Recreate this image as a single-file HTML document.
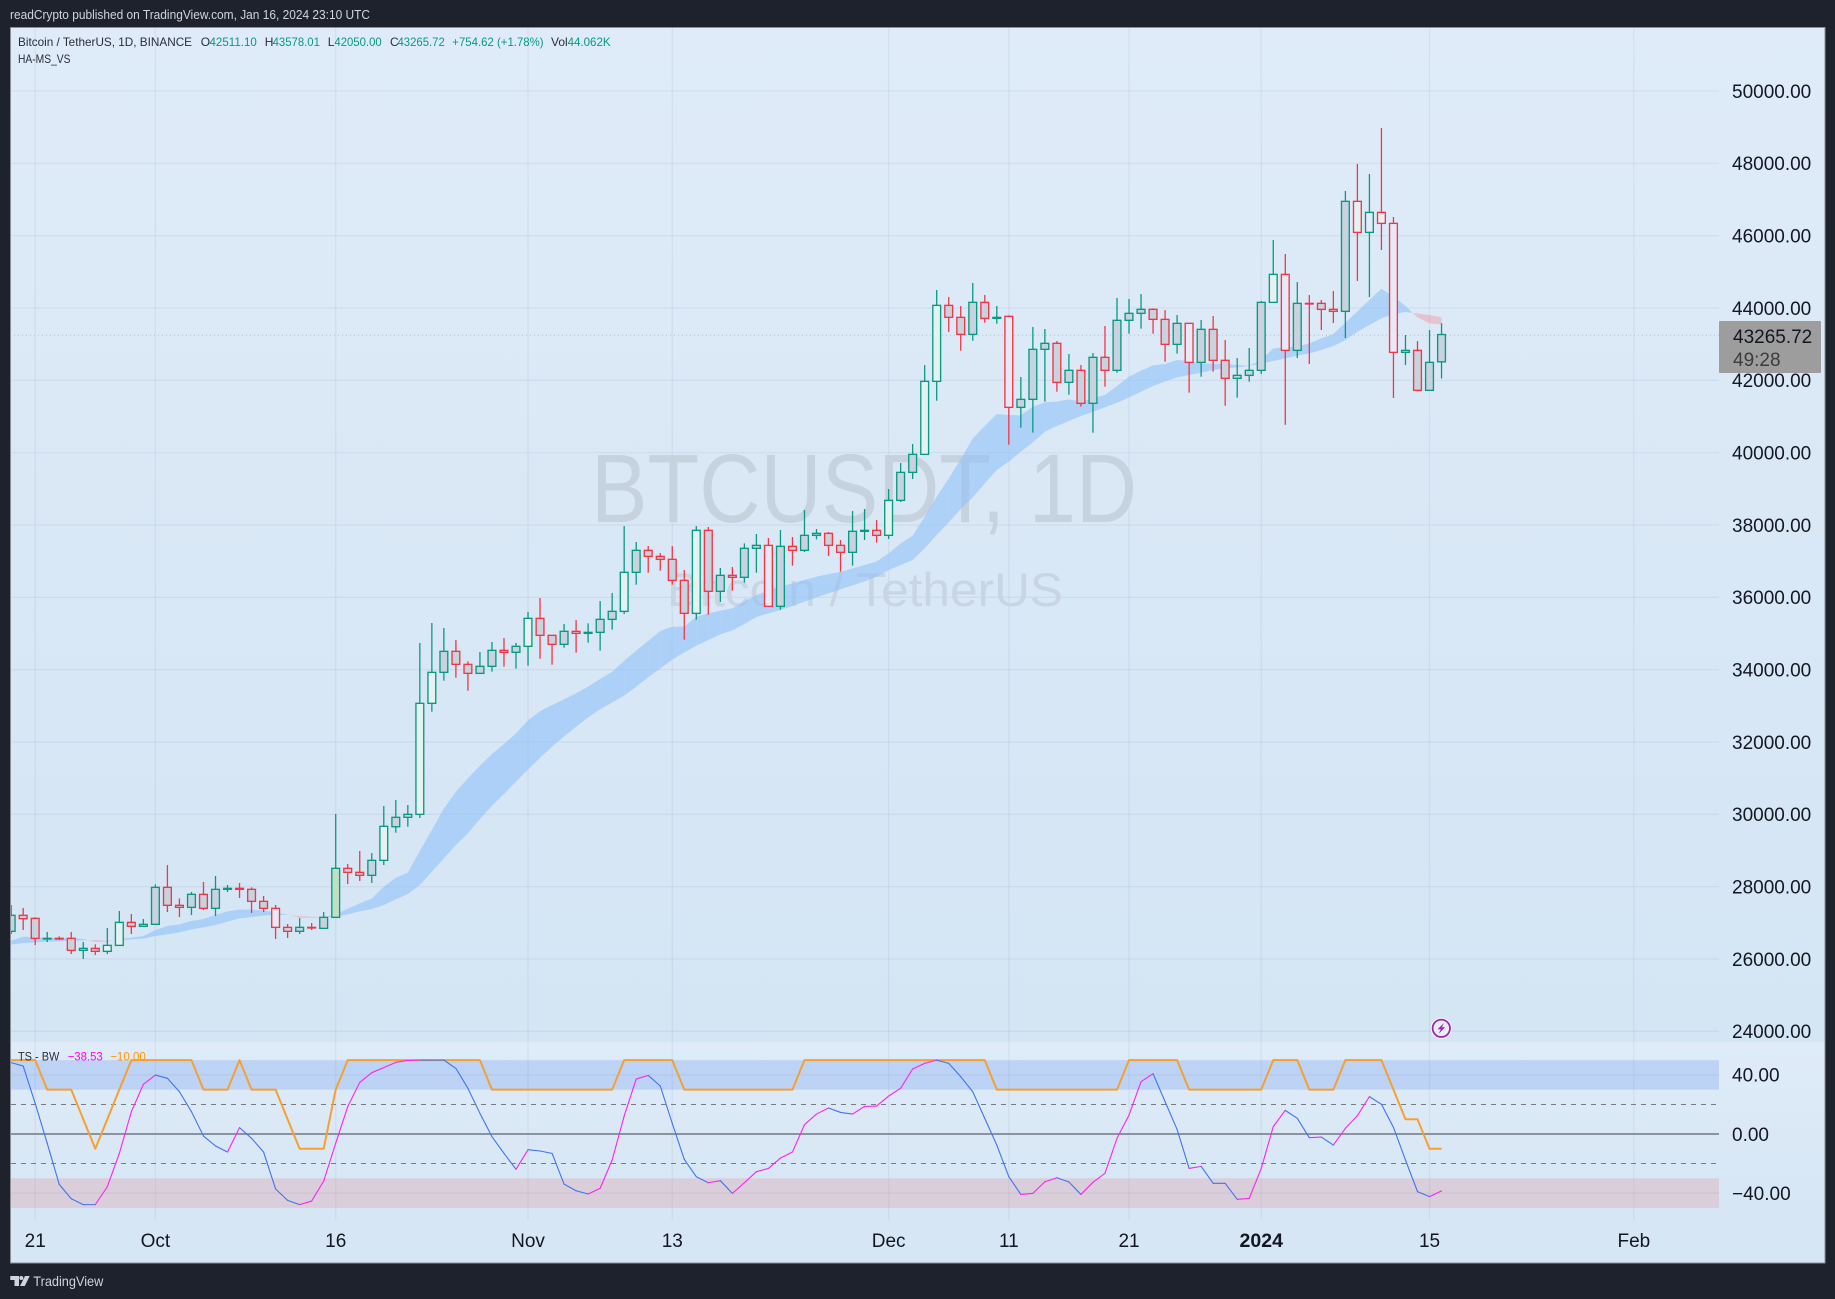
<!DOCTYPE html>
<html lang="en">
<head>
<meta charset="utf-8">
<title>BTCUSDT 1D chart</title>
<style>
html,body{margin:0;padding:0;background:#1e222d;width:1835px;height:1299px;overflow:hidden}
svg{display:block;font-family:"Liberation Sans",Arial,sans-serif}
</style>
</head>
<body>
<svg id="chart" xmlns="http://www.w3.org/2000/svg" width="1835" height="1299" viewBox="0 0 1835 1299">
  <defs>
    <linearGradient id="mainBg" x1="0" y1="0" x2="0" y2="1"><stop offset="0" stop-color="#dfebf8"/><stop offset="1" stop-color="#d4e5f4"/></linearGradient>
    <linearGradient id="oscBg" x1="0" y1="0" x2="0" y2="1"><stop offset="0" stop-color="#dfebf8"/><stop offset="1" stop-color="#d6e6f4"/></linearGradient>
    <clipPath id="plotClip"><rect x="11" y="27" width="1708" height="1193"/></clipPath>
  </defs>
  <rect width="1835" height="1299" fill="#1e222d"/>
  <text x="10" y="19" font-size="12.5" fill="#d1d4dc" textLength="360" lengthAdjust="spacingAndGlyphs">readCrypto published on TradingView.com, Jan 16, 2024 23:10 UTC</text>
  <rect x="10" y="27" width="1815" height="1015" fill="url(#mainBg)"/>
  <rect x="10" y="1042" width="1815" height="178" fill="url(#oscBg)"/>
  <rect x="10" y="1220" width="1815" height="43" fill="#d6e6f4"/>
  <g id="grid"></g>
  <text x="591" y="522" font-size="97" fill="#c7d2df" textLength="546" lengthAdjust="spacingAndGlyphs">BTCUSDT, 1D</text>
  <text x="667" y="606" font-size="47" fill="#c9d5e2" textLength="396" lengthAdjust="spacingAndGlyphs">Bitcoin / TetherUS</text>
  <g clip-path="url(#plotClip)">
    <g id="osc-zones"></g>
    <g id="ribbon"></g>
    <line x1="10" x2="1719" y1="335.3" y2="335.3" stroke="#a9b4c2" stroke-width="1" stroke-dasharray="1 3" stroke-opacity="0.75"/>
    <g id="candles"></g>
    <g id="osc"></g>
  </g>
  <g id="price-axis"></g>
  <g id="osc-axis"></g>
  <g id="time-axis"></g>

  <g>
    <rect x="1719" y="321" width="102" height="52" rx="1" fill="#9d9d9d"/>
    <text x="1733" y="343" font-size="19" fill="#131722">43265.72</text>
    <text x="1733" y="366" font-size="19" fill="#3c3c3c">49:28</text>
  </g>

  <g font-size="12" fill="#2a2e39">
    <text x="18" y="46" textLength="174" lengthAdjust="spacingAndGlyphs">Bitcoin / TetherUS, 1D, BINANCE</text>
    <text x="200.8" y="46">O</text>
    <text x="209.5" y="46" fill="#089981" textLength="47.3" lengthAdjust="spacingAndGlyphs">42511.10</text>
    <text x="264.7" y="46">H</text>
    <text x="272.6" y="46" fill="#089981" textLength="47.3" lengthAdjust="spacingAndGlyphs">43578.01</text>
    <text x="327.8" y="46">L</text>
    <text x="334.4" y="46" fill="#089981" textLength="47.3" lengthAdjust="spacingAndGlyphs">42050.00</text>
    <text x="390" y="46">C</text>
    <text x="397.5" y="46" fill="#089981" textLength="47.3" lengthAdjust="spacingAndGlyphs">43265.72</text>
    <text x="452.3" y="46" fill="#089981" textLength="91.3" lengthAdjust="spacingAndGlyphs">+754.62 (+1.78%)</text>
    <text x="551" y="46">Vol</text>
    <text x="567.6" y="46" fill="#089981" textLength="43" lengthAdjust="spacingAndGlyphs">44.062K</text>
    <text x="18" y="63" textLength="52.5" lengthAdjust="spacingAndGlyphs">HA-MS_VS</text>
  </g>

  <g font-size="12">
    <text x="18" y="1060.5" fill="#2a2e39" textLength="41.3" lengthAdjust="spacingAndGlyphs">TS - BW</text>
    <text x="67.7" y="1060.5" fill="#ff00ff" textLength="35" lengthAdjust="spacingAndGlyphs">−38.53</text>
    <text x="110.2" y="1060.5" fill="#ff9800" textLength="35.6" lengthAdjust="spacingAndGlyphs">−10.00</text>
  </g>

  <g>
    <circle cx="1441.3" cy="1028.3" r="10.5" fill="#ffffff"/>
    <circle cx="1441.3" cy="1028.3" r="8.7" fill="#e9effa" stroke="#9c27b0" stroke-width="1.8"/>
    <polygon points="1444,1023 1437.5,1029.3 1440.8,1029.3 1438.8,1033.6 1445.2,1027.3 1441.9,1027.3" fill="#9c27b0"/>
  </g>

  <rect x="10.5" y="27.5" width="1814.5" height="1235.5" fill="none" stroke="#8a8f9c" stroke-width="1"/>

  <g fill="#d1d4dc">
    <polygon points="10.3,1276 19,1276 19,1286 14.5,1286 14.5,1280 10.3,1280"/>
    <circle cx="21.3" cy="1278" r="2"/>
    <polygon points="25,1276 29.7,1276 24.8,1286 20,1286"/>
    <text x="33.3" y="1286" font-size="14" fill="#d1d4dc" textLength="70" lengthAdjust="spacingAndGlyphs">TradingView</text>
  </g>

<script>
/* ---------- chart data (daily, one entry per day starting at firstDate) ---------- */
const firstDate = '2023-09-19';
const opens = [
26764,27206,27123,26561,26570,26570,26238,26293,26211,26376,
27012,26902,26957,27980,27483,27427,27787,27400,27925,27953,
27925,27593,27400,26874,26764,26874,26846,27151,28506,28395,
28312,28727,29657,29916,29999,33068,33925,34506,34146,33897,
34091,34533,34478,34644,35418,34948,34699,35059,35003,35031,
35390,35611,36690,37298,37132,37049,36469,35556,37851,36165,
36607,36552,37354,37436,35750,37409,37298,37713,37768,37436,
37243,37824,37851,37713,38680,39454,39952,41971,44072,43740,
43270,44155,43713,43768,41252,41473,42856,43022,41943,42275,
41363,42635,42275,43658,43851,43962,43685,42994,43575,42496,
43409,42552,42054,42137,42275,44155,44929,42828,44127,44127,
43961,43906,46948,46090,46643,46339,42772,42828,41722,42511.10];
const highs = [
27492,27409,27151,26745,26625,26745,26469,26404,26856,27326,
27243,27105,28063,28598,27676,27851,28128,28294,28045,28100,
27980,27741,27492,26966,27132,26994,27298,30008,28625,28985,
28930,30229,30395,30257,34736,35289,35151,34819,34229,34487,
34764,34874,34736,35593,35980,34948,35261,35372,35280,35897,
36118,37971,37529,37418,37225,37418,36754,37971,37943,36810,
36837,37492,37750,37639,37860,37667,38413,37888,37805,37584,
38386,38441,38137,38994,39712,40238,42422,44496,44303,44054,
44690,44358,44054,43796,42091,43473,43418,43086,42727,42423,
42754,43501,44275,44248,44386,43990,43943,43805,43575,43667,
43778,43114,42616,42893,44192,45878,45491,44717,44358,44219,
44468,47233,47980,47703,48975,46514,43252,43086,43390,43578.01];
const lows = [
26690,26800,26386,26469,26524,26137,26000,26109,26137,26376,
26690,26902,26957,27298,27160,27215,27353,27187,27851,27685,
27270,27298,26552,26579,26690,26800,26846,27151,28072,28155,
28100,28598,29492,29657,29897,32837,33695,33777,33418,33897,
33943,34082,34026,34109,34303,34137,34607,34469,34745,34524,
35105,35538,36349,36681,36736,36349,34828,35381,35519,35870,
36183,36404,36681,35750,35658,36874,37252,37602,37142,36708,
36874,37584,37510,37612,38634,39270,39952,41436,43335,42819,
43095,43593,43565,40220,40690,40552,41409,41685,41602,41271,
40552,41823,42211,43289,43427,43289,42515,42736,41658,42100,
42238,41298,41519,41962,42173,44155,40772,42616,42450,43390,
43583,43169,44745,44302,45602,41510,42422,41722,41722,42050.00];
const closes = [
27206,27114,26570,26570,26561,26238,26293,26211,26376,27012,
26902,26957,27980,27483,27427,27787,27400,27925,27953,27925,
27593,27400,26874,26764,26874,26865,27151,28506,28395,28312,
28727,29667,29916,29999,33068,33925,34506,34146,33897,34091,
34533,34478,34644,35418,34948,34699,35059,35003,35031,35390,
35611,36690,37298,37132,37049,36469,35556,37851,36165,36607,
36552,37354,37436,35750,37409,37298,37713,37768,37436,37243,
37824,37851,37713,38680,39454,39952,41971,44072,43740,43270,
44155,43713,43740,41252,41473,42856,43022,41943,42275,41363,
42635,42275,43658,43851,43962,43685,42994,43575,42496,43409,
42552,42054,42137,42275,44155,44929,42828,44127,44118,43961,
43906,46948,46090,46643,46339,42772,42828,41722,42496,43265.72];
/* ribbon moving averages */
const maFast = [
26505,26616,26598,26579,26588,26579,26551,26470,26478,26542,
26588,26634,26800,26911,26957,27049,27105,27215,27317,27363,
27363,27335,27289,27224,27141,27141,27151,27233,27390,27538,
27667,27998,28247,28386,28985,29565,30164,30625,30994,31344,
31667,31943,32238,32600,32850,33020,33180,33344,33529,33740,
33943,34247,34524,34791,35068,35188,35188,35464,35556,35630,
35694,35879,36063,36183,36294,36386,36478,36570,36644,36699,
36800,36893,36985,37215,37491,37703,38228,38781,39288,39814,
40394,40735,41067,41040,41031,41271,41390,41409,41473,41409,
41501,41593,41842,42100,42266,42413,42450,42561,42533,42469,
42460,42450,42423,42400,42561,42884,42911,42930,43022,43160,
43280,43593,43906,44220,44533,44312,44054,43740,43574,43547];
const maSlow = [
26395,26441,26459,26478,26487,26505,26515,26524,26505,26515,
26542,26561,26634,26680,26736,26819,26874,26939,27031,27123,
27160,27197,27215,27215,27187,27169,27169,27169,27233,27316,
27381,27491,27648,27796,28045,28413,28782,29151,29473,29869,
30238,30561,30902,31240,31560,31870,32150,32420,32680,32900,
33090,33280,33529,33787,34035,34275,34478,34662,34819,34976,
35086,35261,35455,35556,35648,35759,35879,35999,36109,36220,
36330,36441,36570,36754,36890,37030,37353,37722,38072,38440,
38763,39150,39519,39750,40026,40284,40579,40736,40874,41012,
41132,41252,41381,41528,41685,41842,41971,42082,42146,42211,
42285,42330,42358,42395,42469,42533,42607,42681,42745,42837,
42948,43113,43344,43528,43713,43832,43888,43851,43805,43740];
/* oscillator */
const tsValues = [
48.3,46,20.7,-6.3,-34.1,-43.8,-47.8,-47.8,-35.7,-13.1,
15.1,33.6,39.9,37.7,28.6,15.1,-1.4,-8.1,-12.2,4.3,
-2.9,-12.2,-37.2,-44.9,-47.8,-45.4,-31.8,-6.3,18.5,34.9,
41.5,44.9,48.5,49.8,50,50,50,44.4,30.9,14,
-1.8,-13.1,-23.9,-10.6,-11.5,-13.1,-33.9,-38.4,-40.6,-36.8,
-17.6,12.2,37.2,39.7,32.5,7.2,-17.2,-28.9,-33,-31.6,
-40.2,-33,-25.5,-23.3,-16.3,-12.2,6.3,13.5,17.6,14.6,
13.5,18.7,18.9,25.7,30.9,44,47.8,50,47.8,38.8,
28.6,10.6,-7.5,-28.9,-40.9,-40.2,-32.3,-29.6,-32.5,-40.9,
-32.7,-26.6,-2.9,12.8,35.4,40.8,21.9,3.1,-23.3,-21.9,
-33.4,-33.4,-44.2,-43.6,-23.3,5,16,10.6,-2.5,-2.1,
-7.5,3.8,12.4,25.3,20.1,4.5,-17.6,-39,-42.4,-38.53];
const signalValues = [
50,50,50,30,30,30,10,-10,10,30,
50,50,50,50,50,50,30,30,30,50,
30,30,30,10,-10,-10,-10,30,50,50,
50,50,50,50,50,50,50,50,50,50,
30,30,30,30,30,30,30,30,30,30,
30,50,50,50,50,50,30,30,30,30,
30,30,30,30,30,30,50,50,50,50,
50,50,50,50,50,50,50,50,50,50,
50,50,30,30,30,30,30,30,30,30,
30,30,30,50,50,50,50,50,30,30,
30,30,30,30,30,50,50,50,30,30,
30,50,50,50,50,30,10,10,-10,-10];
/* bars whose body is highlighted by the indicator's bar-colouring (dates) */
const strongUpDates = ['2023-09-27','2023-09-28','2023-10-20','2023-10-23','2023-10-24','2023-11-01','2023-11-09','2023-11-15','2023-12-01','2023-12-04','2023-12-05','2024-01-02','2024-01-09','2024-01-11'];
const strongDownDates = ['2023-10-11','2023-11-21','2023-12-11','2023-12-26','2024-01-03','2024-01-10','2024-01-12'];
const breakoutDates = ['2023-10-16'];
/* axes */
const priceTicks = [50000,48000,46000,44000,42000,40000,38000,36000,34000,32000,30000,28000,26000,24000];
const oscTicks = [40,0,-40];
const oscDashed = [20,-20];
const obZone = [30,50];
const osZone = [-50,-30];
const timeTickDates = ['2023-09-21','2023-10-01','2023-10-16','2023-11-01','2023-11-13','2023-12-01','2023-12-11','2023-12-21','2024-01-01','2024-01-15','2024-02-01'];
const timeTickLabels = ['21','Oct','16','Nov','13','Dec','11','21','2024','15','Feb'];
const boldTimeTicks = ['2024'];

/* ---------- axis functions ---------- */
const DAY = 86400000;
const t0 = Date.parse(firstDate + 'T00:00:00Z');
const dayIndex = d => Math.round((Date.parse(d + 'T00:00:00Z') - t0) / DAY);
const xOf = k => 11.16 + 12.02 * k;
const yPrice = p => 163.3 + (48000 - p) * 0.0361667;
const yOsc = v => 1134 - 1.4775 * v;

const NS = 'http://www.w3.org/2000/svg';
function mk(tag, attrs, parent) {
  const el = document.createElementNS(NS, tag);
  for (const k in attrs) el.setAttribute(k, attrs[k]);
  parent.appendChild(el);
  return el;
}
const gridG = document.getElementById('grid');
const zoneG = document.getElementById('osc-zones');
const ribbonG = document.getElementById('ribbon');
const candleG = document.getElementById('candles');
const oscG = document.getElementById('osc');
const priceG = document.getElementById('price-axis');
const oscAxisG = document.getElementById('osc-axis');
const timeG = document.getElementById('time-axis');
const GRID = 'rgba(110,128,155,0.10)';

/* grid + price axis */
priceTicks.forEach(p => {
  const ln = mk('line', {x1: 11, x2: 1719, y1: yPrice(p), y2: yPrice(p), stroke: GRID, 'stroke-width': 1.3}, gridG);
  
  
  const tx = mk('text', {x: 1732, y: yPrice(p) + 6.8, 'font-size': 19, fill: '#131722'}, priceG);
  
  
  tx.textContent = p.toFixed(2);
});
/* time axis */
timeTickDates.forEach((d, n) => {
  const x = xOf(dayIndex(d));
  const ln = mk('line', {x1: x, x2: x, y1: 27, y2: 1220, stroke: GRID, 'stroke-width': 1.3}, gridG);
  
  
  const bold = boldTimeTicks.includes(timeTickLabels[n]);
  const tx = mk('text', {x: x, y: 1247, 'font-size': bold ? 19.5 : 19, 'font-weight': bold ? 700 : 400, 'text-anchor': 'middle', fill: '#131722'}, timeG);
  
  
  tx.textContent = timeTickLabels[n];
});
/* oscillator furniture */
const ob = mk('rect', {x: 11, width: 1708, y: yOsc(obZone[1]), height: yOsc(obZone[0]) - yOsc(obZone[1]), fill: 'rgba(60,120,240,0.2)'}, zoneG);


const os = mk('rect', {x: 11, width: 1708, y: yOsc(osZone[1]), height: yOsc(osZone[0]) - yOsc(osZone[1]), fill: 'rgba(225,130,140,0.25)'}, zoneG);


oscDashed.forEach(v => {
  const ln = mk('line', {x1: 11, x2: 1719, y1: yOsc(v), y2: yOsc(v), stroke: '#787b86', 'stroke-width': 1, 'stroke-dasharray': '5 5'}, zoneG);
  
  
});
oscTicks.forEach(v => {
  const isZero = v === 0;
  const ln = mk('line', {x1: 11, x2: 1719, y1: yOsc(v), y2: yOsc(v), stroke: isZero ? '#808794' : GRID, 'stroke-width': isZero ? 1.8 : 1.3}, zoneG);
  
  
  const tx = mk('text', {x: 1732, y: yOsc(v) + 6.8, 'font-size': 19, fill: '#131722'}, oscAxisG);
  
  
  tx.textContent = (v < 0 ? '\u2212' : '') + Math.abs(v).toFixed(2);
});

/* ribbon: one polygon per interval, blue when fast is above slow, pink when below */
const BLUE = 'rgba(143,193,248,0.6)';
const PINK = 'rgba(240,150,160,0.45)';
function ribbonPiece(k0, f0, s0, k1, f1, s1, up) {
  const pts = [[xOf(k0), yPrice(f0)], [xOf(k1), yPrice(f1)], [xOf(k1), yPrice(s1)], [xOf(k0), yPrice(s0)]].map(p => p[0].toFixed(2) + ',' + p[1].toFixed(2)).join(' ');
  const poly = mk('polygon', {points: pts, fill: up ? BLUE : PINK}, ribbonG);
  
  
}
for (let k = 0; k < maFast.length - 1; k++) {
  const f0 = maFast[k], f1 = maFast[k + 1], s0 = maSlow[k], s1 = maSlow[k + 1];
  const d0 = f0 - s0, d1 = f1 - s1;
  if (d0 * d1 < 0) {
    const t = d0 / (d0 - d1);
    const fm = f0 + (f1 - f0) * t;
    ribbonPiece(k, f0, s0, k + t, fm, fm, d0 > 0);
    ribbonPiece(k + t, fm, fm, k + 1, f1, s1, d1 > 0);
  } else {
    ribbonPiece(k, f0, s0, k + 1, f1, s1, d0 + d1 >= 0);
  }
}

/* candles */
const UP = '#089981', DOWN = '#f23645';
const upSet = new Set(strongUpDates.map(dayIndex));
const downSet = new Set(strongDownDates.map(dayIndex));
const spikeSet = new Set(breakoutDates.map(dayIndex));
opens.forEach((o, k) => {
  const c = closes[k], up = c >= o, col = up ? UP : DOWN;
  const x = xOf(k);
  const g = mk('g', {}, candleG);
  
  
  const wick = mk('line', {x1: x, x2: x, y1: yPrice(highs[k]), y2: yPrice(lows[k]), stroke: col, 'stroke-width': 1.3}, g);
  
  
  const top = yPrice(Math.max(o, c)), bot = yPrice(Math.min(o, c));
  let fill = '#c8d3df';
  if (upSet.has(k)) fill = '#e6f2f1';
  if (downSet.has(k)) fill = '#e8e9f6';
  if (spikeSet.has(k)) fill = '#bfe0c4';
  const body = mk('rect', {x: x - 3.9, y: top, width: 7.8, height: Math.max(bot - top, 0.6), fill: fill, stroke: col, 'stroke-width': 1.35}, g);
  
  
});

/* oscillator lines */
const sigPts = signalValues.map((v, k) => xOf(k).toFixed(2) + ',' + yOsc(v).toFixed(2)).join(' ');
const sig = mk('polyline', {points: sigPts, fill: 'none', stroke: '#f5a033', 'stroke-width': 2, 'stroke-linejoin': 'round'}, oscG);


for (let k = 0; k < tsValues.length - 1; k++) {
  const rising = tsValues[k + 1] > tsValues[k];
  const seg = mk('line', {x1: xOf(k), y1: yOsc(tsValues[k]), x2: xOf(k + 1), y2: yOsc(tsValues[k + 1]), stroke: rising ? '#ff22ee' : '#3f74f2', 'stroke-width': 1.1, 'stroke-linecap': 'round'}, oscG);
  
  
}
</script>
</svg>
</body>
</html>
